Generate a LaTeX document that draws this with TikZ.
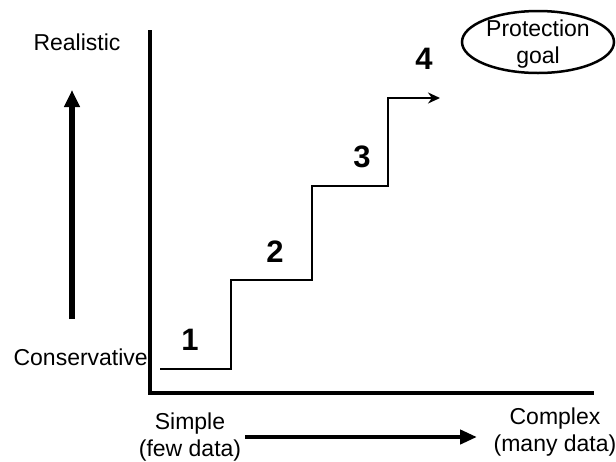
\documentclass[tikz,border=0pt]{standalone}
\usepackage{fontspec}
\setmainfont{Liberation Sans}
\usetikzlibrary{arrows.meta}
\begin{document}
\begin{tikzpicture}[x=1pt,y=-1pt,font=\fontsize{23}{27}\selectfont,
  stepno/.style={font=\fontsize{31}{31}\selectfont\bfseries}]
\useasboundingbox (0,0) rectangle (616,461);

\coordinate (top) at (150,30);
\coordinate (origin) at (150,393);
\coordinate (right) at (594,393);
\draw[line width=4pt] (top) -- (origin) -- (right);

\node (realistic) at (77,42) {Realistic};
\node[anchor=east,inner sep=1pt] (conservative) at (149,357) {Conservative};
\node[align=center] (simple) at (190,437) {Simple\\(few data)};
\node[align=center] (complex) at (555,432) {Complex\\(many data)};

\coordinate (up0) at (72,319);
\coordinate (up1) at (72,90);
\draw[line width=6.5pt,-{Triangle[length=17pt,width=15pt]}] (up0) -- (up1);
\coordinate (more0) at (245,437);
\coordinate (more1) at (477,437);
\draw[line width=4.5pt,-{Triangle[length=17pt,width=14pt]}] (more0) -- (more1);

\begin{scope}[line width=2pt]
\coordinate (s0) at (160,369);
\coordinate (s1) at (231,280);
\coordinate (s2) at (312,186);
\coordinate (s3) at (388,98);
\coordinate (s4) at (440,98);
\draw[-{Stealth[length=12pt,width=11pt]}] (s0) -| (s1) -| (s2) -| (s3) -- (s4);
\end{scope}

\node[stepno] (one) at (190,340) {1};
\node[stepno] (two) at (275,252) {2};
\node[stepno] (three) at (362,157) {3};
\node[stepno] (four) at (424,59) {4};

\node[align=center,inner sep=0pt] (goal) at (538,44) {Protection\\goal};
\draw[line width=2.5pt] (538,42) ellipse [x radius=76, y radius=31];

\end{tikzpicture}
\end{document}
